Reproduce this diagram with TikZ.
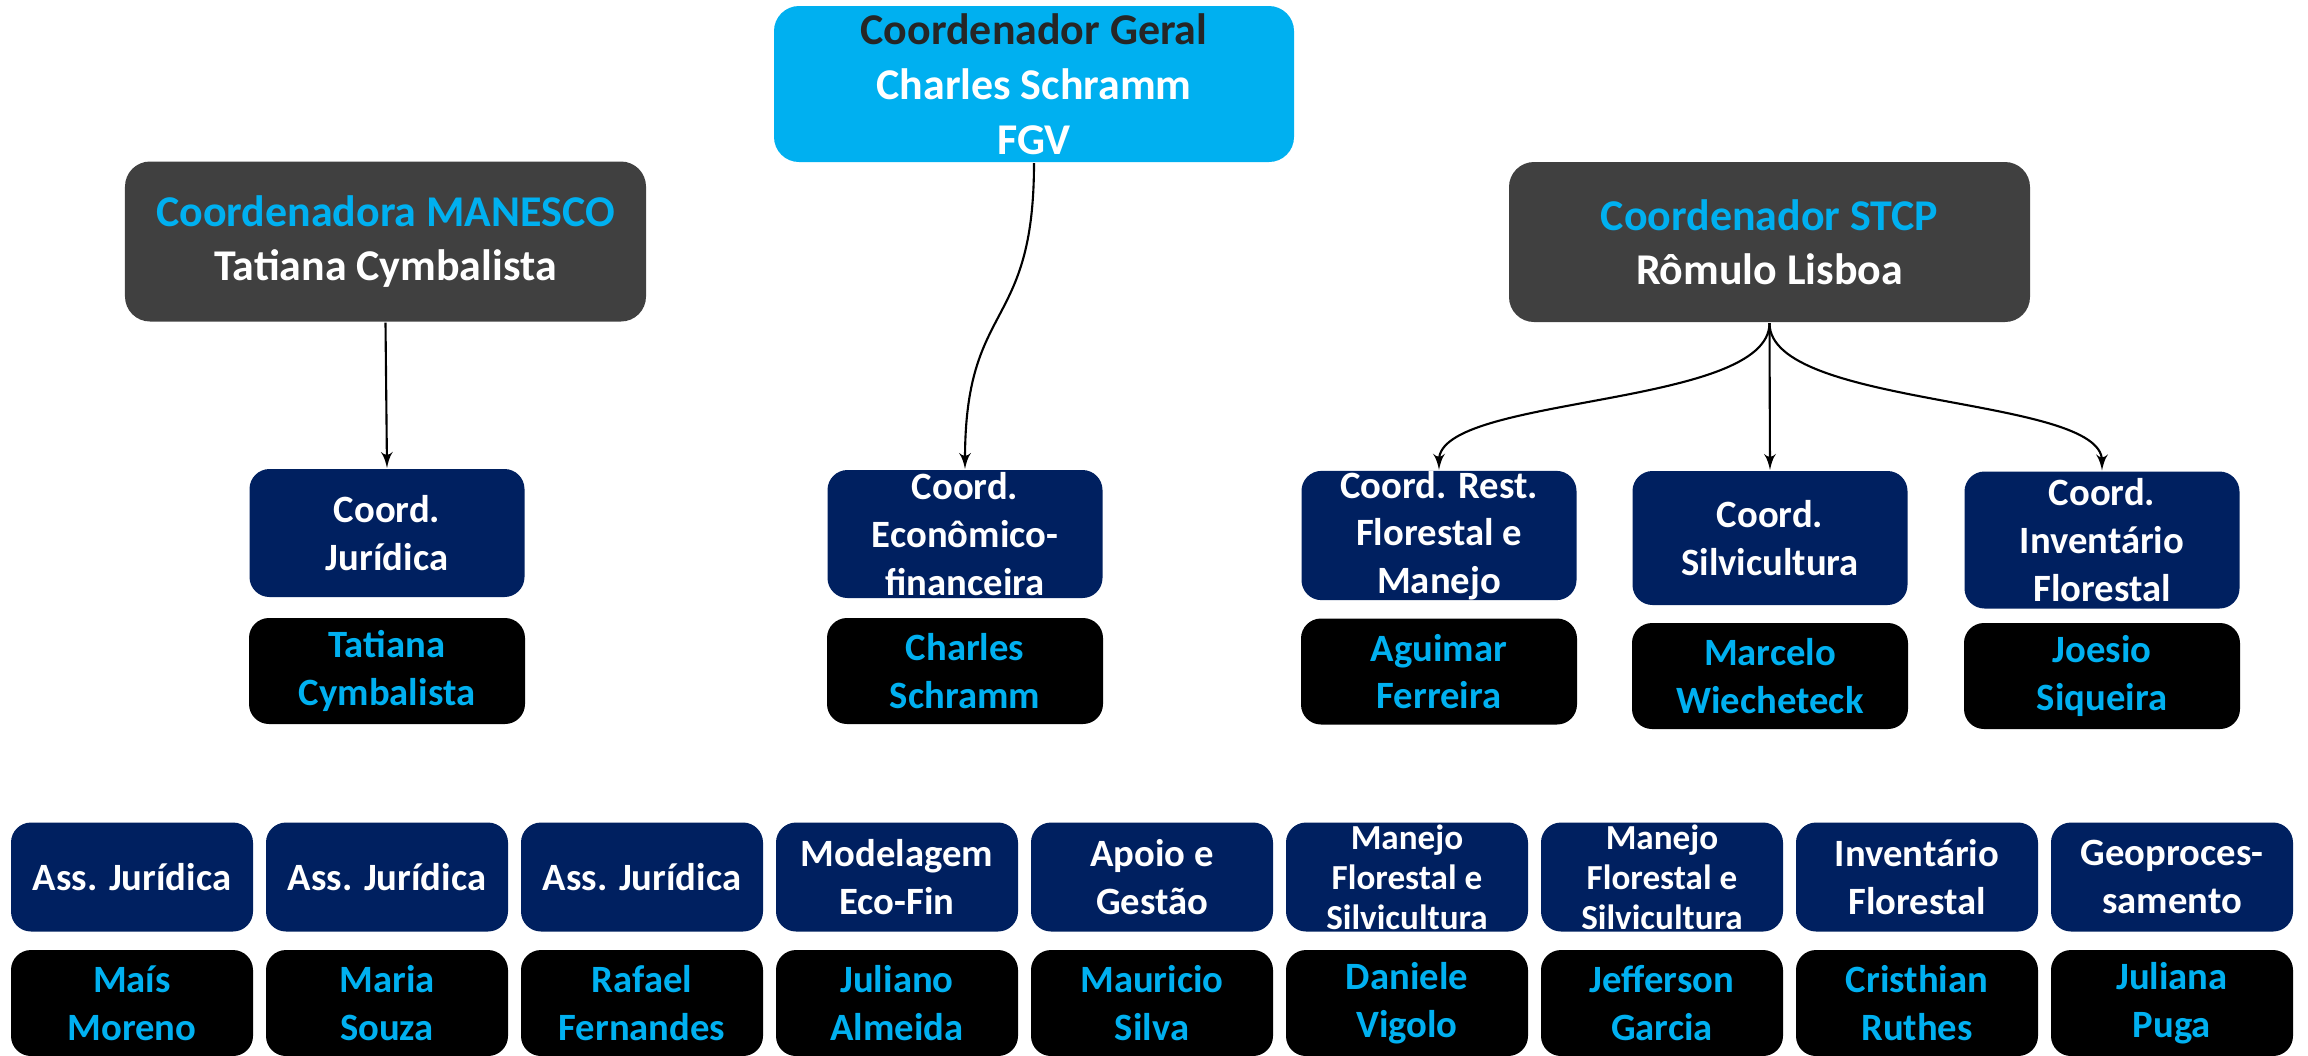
\documentclass[tikz,border=0pt]{standalone}
\usepackage{fontspec}
\setmainfont{Carlito}
\usepackage{tikz}
\usetikzlibrary{arrows}

\definecolor{fgvcyan}{HTML}{00B0F0}
\definecolor{rolenavy}{HTML}{002060}
\definecolor{chiefgray}{HTML}{404040}

\begin{document}
\begin{tikzpicture}[line width=0.6pt,
  geral node/.style={rectangle,rounded corners=0.25cm,fill=fgvcyan,text=white,align=center,
  inner sep=0pt,minimum width=5.2cm,minimum height=1.56cm,font=\fontsize{12.5}{15.6}\selectfont\bfseries},
  chief node/.style={rectangle,rounded corners=0.25cm,fill=chiefgray,text=white,align=center,
  inner sep=0pt,minimum width=5.21cm,minimum height=1.6cm,font=\fontsize{12.5}{15.4}\selectfont\bfseries},
  coord node/.style={rectangle,rounded corners=0.2cm,fill=rolenavy,text=white,align=center,
  inner sep=0pt,minimum width=2.75cm,minimum height=1.28cm,font=\fontsize{11}{13.6}\selectfont\bfseries},
  name node/.style={rectangle,rounded corners=0.2cm,fill=black,text=fgvcyan,align=center,
  inner sep=0pt,minimum width=2.76cm,minimum height=1.06cm,font=\fontsize{11}{13.6}\selectfont\bfseries},
  ass node/.style={coord node,minimum width=2.42cm,minimum height=1.09cm},
  assname node/.style={name node,minimum width=2.42cm}]

  \useasboundingbox (0,0) rectangle (23.08,-10.55);
  \clip (0,0) rectangle (23.08,-10.55);

  \node[geral node] (geral) at (10.34,-0.84) {\textcolor{black!85}{Coordenador Geral}\\Charles Schramm\\FGV};
  \node[chief node] (manesco) at (3.855,-2.415) {\textcolor{fgvcyan}{Coordenadora MANESCO}\\Tatiana Cymbalista};
  \node[chief node] (stcp) at (17.695,-2.42) {\textcolor{fgvcyan}{Coordenador STCP}\\Rômulo Lisboa};

%coordenações
  \node[coord node] (jur) at (3.87,-5.33) {Coord.\\Jurídica};
  \node[coord node] (econ) at (9.65,-5.34) {Coord.\\Econômico-\\financeira};
  \node[coord node] (rest) at (14.39,-5.355) {Coord. Rest.\\Florestal e\\Manejo};
  \node[coord node,minimum height=1.34cm] (silv) at (17.70,-5.38) {Coord.\\Silvicultura};
  \node[coord node,minimum height=1.37cm] (invent) at (21.02,-5.40) {Coord.\\Inventário\\Florestal};

  \node[name node] (tatiana) [below of=jur, node distance=1.38cm] {Tatiana\\Cymbalista};
  \node[name node] (charles) [below of=econ, node distance=1.37cm] {Charles\\Schramm};
  \node[name node] (aguimar) [below of=rest, node distance=1.36cm] {Aguimar\\Ferreira};
  \node[name node] (marcelo) [below of=silv, node distance=1.38cm] {Marcelo\\Wiecheteck};
  \node[name node] (joesio) [below of=invent, node distance=1.36cm] {Joesio\\Siqueira};

%equipe
  \node[ass node] (ass1) at (1.32,-8.77) {Ass. Jurídica};
  \node[ass node] (ass2) [right of=ass1, node distance=2.55cm] {Ass. Jurídica};
  \node[ass node] (ass3) [right of=ass2, node distance=2.55cm] {Ass. Jurídica};
  \node[ass node] (modelo) [right of=ass3, node distance=2.55cm] {Modelagem\\Eco-Fin};
  \node[ass node] (apoio) [right of=modelo, node distance=2.55cm] {Apoio e\\Gestão};
  \node[ass node,font=\fontsize{10}{11.4}\selectfont\bfseries] (manejo1) [right of=apoio, node distance=2.55cm] {Manejo\\Florestal e\\Silvicultura};
  \node[ass node,font=\fontsize{10}{11.4}\selectfont\bfseries] (manejo2) [right of=manejo1, node distance=2.55cm] {Manejo\\Florestal e\\Silvicultura};
  \node[ass node] (inv) [right of=manejo2, node distance=2.55cm] {Inventário\\Florestal};
  \node[ass node] (geo) [right of=inv, node distance=2.55cm] {Geoproces-\\samento};

  \node[assname node] (mais) [below of=ass1, node distance=1.26cm] {Maís\\Moreno};
  \node[assname node] (maria) [below of=ass2, node distance=1.26cm] {Maria\\Souza};
  \node[assname node] (rafael) [below of=ass3, node distance=1.26cm] {Rafael\\Fernandes};
  \node[assname node] (juliano) [below of=modelo, node distance=1.26cm] {Juliano\\Almeida};
  \node[assname node] (mauricio) [below of=apoio, node distance=1.26cm] {Mauricio\\Silva};
  \node[assname node] (daniele) [below of=manejo1, node distance=1.26cm] {Daniele\\Vigolo};
  \node[assname node] (jefferson) [below of=manejo2, node distance=1.26cm] {Jefferson\\Garcia};
  \node[assname node] (cristhian) [below of=inv, node distance=1.26cm] {Cristhian\\Ruthes};
  \node[assname node] (juliana) [below of=geo, node distance=1.26cm] {Juliana\\Puga};

%ligações
  \draw [-latex'] (manesco.south) -- (jur.north);
  \draw [-latex'] (geral.south) .. controls +(0,-1.7) and +(0,1.7) .. (econ.north);
  \draw [-latex'] (stcp.south) .. controls +(0,-0.85) and +(0,0.75) .. (rest.north);
  \draw [-latex'] (stcp.south) -- (silv.north);
  \draw [-latex'] (stcp.south) .. controls +(0,-0.85) and +(0,0.75) .. (invent.north);

\end{tikzpicture}
\end{document}
